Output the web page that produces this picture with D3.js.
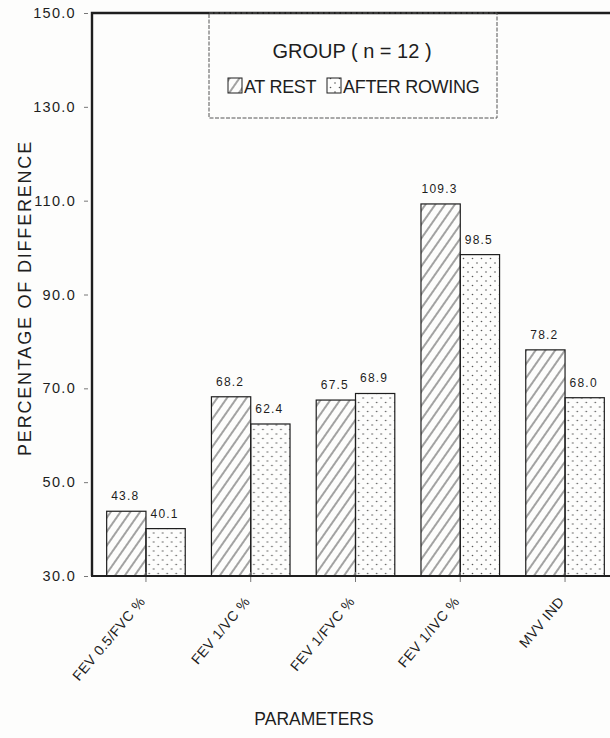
<!DOCTYPE html>
<html>
<head>
<meta charset="utf-8">
<script src="https://cdn.jsdelivr.net/npm/d3@7"></script>
<style>
  html, body { margin: 0; padding: 0; background: #fdfdfc; }
  svg { display: block; }
  text { fill: #1e1e1e; }
</style>
</head>
<body>
<svg id="chart" width="610" height="738"></svg>
<script>
// Percentage of difference per spirometry parameter, group n = 12
const parameters = ["FEV 0.5/FVC %", "FEV 1/VC %", "FEV 1/FVC %", "FEV 1/IVC %", "MVV IND"];
const seriesNames = ["AT REST", "AFTER ROWING"];
const atRest = [43.8, 68.2, 67.5, 109.3, 78.2];
const afterRowing = [40.1, 62.4, 68.9, 98.5, 68.0];
const yTicks = [30, 50, 70, 90, 110, 130, 150];

const svg = d3.select("#chart");
const ink = "#1e1e1e";
const sans = "Liberation Sans, Arial, sans-serif";

// plot frame; the right side runs past the page edge
const plotLeft = 92, plotRight = 619, plotTop = 13, plotBottom = 576;

const defs = svg.append("defs");
const hatch = defs.append("pattern")
  .attr("id", "hatch").attr("patternUnits", "userSpaceOnUse")
  .attr("width", 8).attr("height", 8)
  .attr("patternTransform", "rotate(35)");
hatch.append("line").attr("x1", 1).attr("y1", -1).attr("x2", 1).attr("y2", 9)
  .attr("stroke", "#333").attr("stroke-width", 0.9);

const dots = defs.append("pattern")
  .attr("id", "dots").attr("patternUnits", "userSpaceOnUse")
  .attr("width", 9).attr("height", 9);
dots.append("circle").attr("cx", 2).attr("cy", 2).attr("r", 0.8).attr("fill", "#555");
dots.append("circle").attr("cx", 6.5).attr("cy", 6.5).attr("r", 0.8).attr("fill", "#555");

const fills = ["url(#hatch)", "url(#dots)"];

const y = d3.scaleLinear().domain([30, 150]).range([plotBottom, plotTop]);
const x = d3.scaleBand().domain(parameters).range([plotLeft, plotRight])
  .paddingInner(0.25).paddingOuter(0.14);
const xs = d3.scaleBand().domain(seriesNames).range([0, x.bandwidth()]);

const rows = parameters.map((p, i) => ({ p, vals: [atRest[i], afterRowing[i]] }));

// bars
const groups = svg.append("g").selectAll("g").data(rows).join("g")
  .attr("transform", d => `translate(${x(d.p)},0)`);

groups.selectAll("rect").data(d => d.vals.map((v, j) => ({ v, s: seriesNames[j], j })))
  .join("rect")
  .attr("x", d => xs(d.s))
  .attr("y", d => y(d.v))
  .attr("width", xs.bandwidth())
  .attr("height", d => y(30) - y(d.v))
  .attr("fill", d => fills[d.j])
  .attr("stroke", ink).attr("stroke-width", 1.2);

groups.selectAll("text.val").data(d => d.vals.map((v, j) => ({ v, s: seriesNames[j] })))
  .join("text").attr("class", "val")
  .attr("x", d => xs(d.s) + xs.bandwidth() / 2 - 1)
  .attr("y", d => y(d.v) - 11)
  .attr("text-anchor", "middle")
  .attr("font-family", sans)
  .attr("font-size", 12).attr("letter-spacing", 1.2)
  .text(d => d.v.toFixed(1));

// y axis
const yAxis = d3.axisLeft(y).tickValues(yTicks).tickFormat(d3.format(".1f"))
  .tickSize(0).tickPadding(16);
const gy = svg.append("g").attr("transform", `translate(${plotLeft},0)`).call(yAxis);
gy.select(".domain").remove();
gy.selectAll("text").attr("font-family", sans)
  .attr("font-size", 14.5).attr("letter-spacing", 1.3).attr("fill", ink);
gy.selectAll(".tick").append("line").attr("x1", -8).attr("x2", -4)
  .attr("stroke", "#777").attr("stroke-width", 1);

// x axis
const xAxis = d3.axisBottom(x).tickSize(0).tickFormat("");
const gx = svg.append("g").attr("transform", `translate(0,${plotBottom})`).call(xAxis);
gx.select(".domain").remove();
gx.selectAll(".tick").append("line").attr("y1", -4).attr("y2", 6)
  .attr("stroke", "#777").attr("stroke-width", 1);
gx.selectAll(".tick").append("text")
  .attr("transform", "translate(0,26) rotate(-50)")
  .attr("text-anchor", "end")
  .attr("font-family", sans)
  .attr("font-size", 14).attr("letter-spacing", 0.4)
  .attr("fill", ink)
  .text(d => d);

// frame lines
svg.append("path")
  .attr("d", `M${plotLeft},${plotBottom}V${plotTop}H${plotRight + 20}`)
  .attr("fill", "none").attr("stroke", ink).attr("stroke-width", 2.4);
svg.append("line").attr("x1", plotLeft - 1).attr("x2", plotRight + 20)
  .attr("y1", plotBottom).attr("y2", plotBottom)
  .attr("stroke", ink).attr("stroke-width", 2.2);

// legend
const lg = svg.append("g");
lg.append("rect").attr("x", 209).attr("y", plotTop).attr("width", 288).attr("height", 105)
  .attr("fill", "none").attr("stroke", "#555").attr("stroke-width", 1)
  .attr("stroke-dasharray", "4,1.5");
lg.append("text").attr("x", 352).attr("y", 58).attr("text-anchor", "middle")
  .attr("font-family", sans)
  .attr("font-size", 20).text("GROUP ( n = 12 )");
const items = [{ s: seriesNames[0], x: 228 }, { s: seriesNames[1], x: 327 }];
items.forEach((it, j) => {
  lg.append("rect").attr("x", it.x).attr("y", 78).attr("width", 14).attr("height", 15)
    .attr("fill", fills[j]).attr("stroke", ink).attr("stroke-width", 1);
  lg.append("text").attr("x", it.x + 16).attr("y", 93)
    .attr("font-family", sans)
    .attr("font-size", 18).attr("letter-spacing", -0.3).text(it.s);
});

// axis titles
svg.append("text")
  .attr("transform", `translate(31,${298}) rotate(-90)`)
  .attr("text-anchor", "middle")
  .attr("font-family", sans)
  .attr("font-size", 18).attr("letter-spacing", 1.8)
  .text("PERCENTAGE OF DIFFERENCE");

svg.append("text").attr("x", 314).attr("y", 725).attr("text-anchor", "middle")
  .attr("font-family", sans)
  .attr("font-size", 17.5).text("PARAMETERS");
</script>
</body>
</html>
